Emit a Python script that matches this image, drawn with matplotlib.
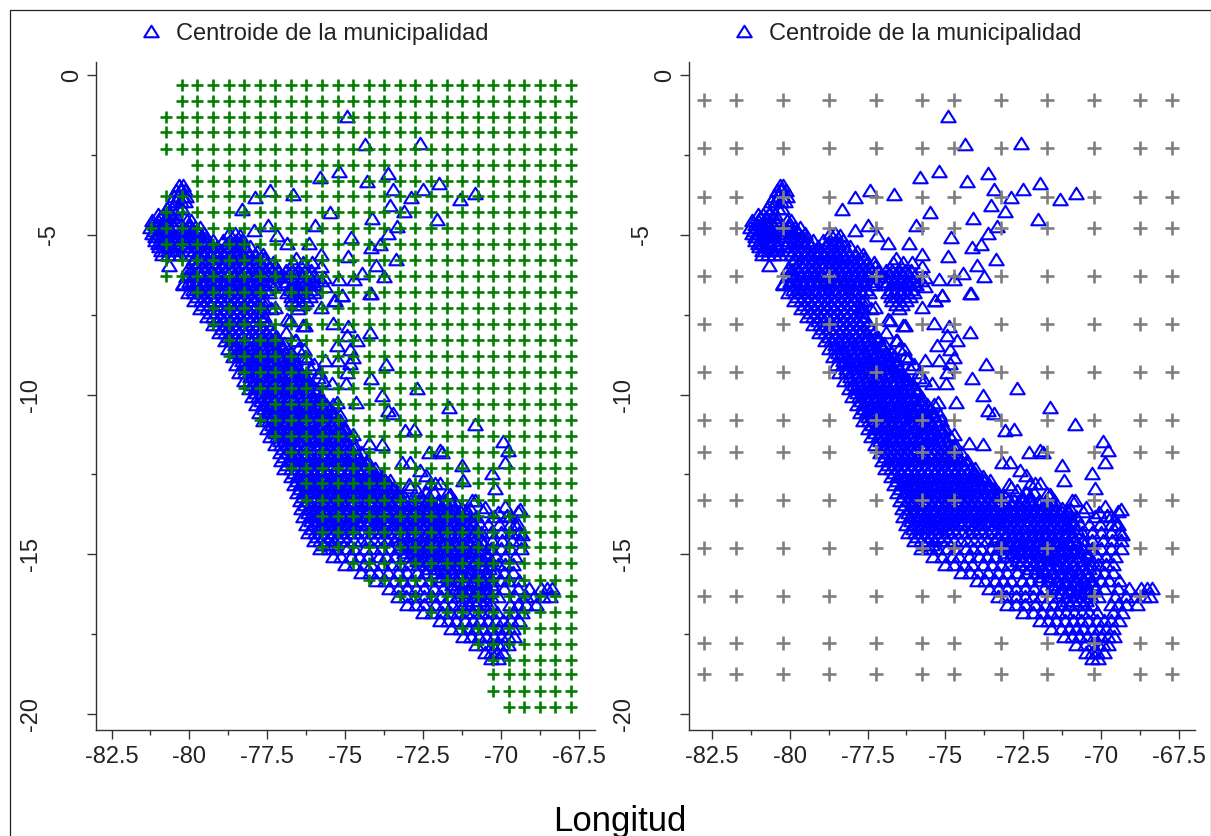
# centroides municipales sobre las dos grillas (densa y gruesa)
import matplotlib
matplotlib.use('Agg')
import matplotlib.pyplot as plt
from matplotlib.lines import Line2D
from matplotlib.path import Path

plt.rcParams['font.family'] = ['Liberation Sans', 'DejaVu Sans']

# grilla densa (panel izquierdo): cada fila va de su primera longitud hasta -67.74
dense_lat = [-0.31, -0.8, -1.3, -1.78, -2.3, -2.82, -3.3, -3.8, -4.3, -4.8,
             -5.3, -5.8, -6.3, -6.78, -7.3, -7.8, -8.3, -8.8, -9.3, -9.8,
             -10.3, -10.8, -11.3, -11.8, -12.3, -12.78, -13.3, -13.8, -14.3, -14.78,
             -15.28, -15.8, -16.3, -16.8, -17.3, -17.8, -18.3, -18.76, -19.28, -19.77]
dense_first_lon = [-80.24, -80.24, -80.74, -80.74, -80.74, -79.74, -79.74, -80.74, -80.74, -81.24,
                   -80.74, -80.74, -80.74, -79.74, -79.24, -79.24, -78.74, -78.74, -78.24, -78.24,
                   -77.24, -77.74, -77.24, -76.74, -76.74, -76.24, -76.24, -75.74, -75.74, -75.74,
                   -74.74, -74.24, -73.24, -72.24, -71.24, -70.74, -70.24, -70.24, -70.24, -69.74]
dense_lon = [-81.24, -80.74, -80.24, -79.74, -79.24, -78.74, -78.24, -77.74, -77.24, -76.74,
             -76.24, -75.74, -75.24, -74.74, -74.24, -73.74, -73.24, -72.74, -72.24, -71.74,
             -71.24, -70.74, -70.24, -69.74, -69.24, -68.74, -68.24, -67.74]

# grilla gruesa (panel derecho)
coarse_lon = [-82.74, -81.73, -80.2, -78.74, -77.22, -75.74, -74.73, -73.22, -71.74, -70.22, -68.74, -67.73]
coarse_lat = [-0.78, -2.29, -3.81, -4.8, -6.29, -7.79, -9.3, -10.8, -11.8, -13.3, -14.8, -16.29, -17.78, -18.76]

# centroides aislados, leidos uno a uno
sparse_lon = [-74.93, -74.37, -72.58, -75.82, -75.20, -74.31, -73.62, -73.45, -71.97, -72.50,
              -72.88, -71.31, -70.81, -73.54, -73.09, -72.03, -74.12, -75.48, -76.66, -77.41,
              -77.89, -78.32, -75.96, -73.33, -73.63, -73.87, -74.15, -74.82, -77.47, -77.91,
              -78.39, -77.19, -76.85, -76.17, -77.84, -75.76, -74.92, -76.59, -73.37, -74.00,
              -74.45, -73.75, -74.71, -75.20, -76.07, -75.76, -74.17, -75.10, -75.34, -75.67,
              -75.78, -75.65, -80.67, -80.06, -80.2,
              -75.11, -74.2, -75.33, -77.25, -75.76, -76.77, -76.29, -75.38, -74.9, -74.2,
              -74.95, -74.63, -75.27, -74.85, -74.74, -75.65, -75.22, -74.85, -73.69, -74.95,
              -74.15, -75.43, -74.97, -72.7, -73.81, -75.25, -74.66, -73.45, -75.17, -72.8,
              -74.23, -73.81, -71.87, -72.92, -72.4, -72.12, -73.56, -74.04, -73.13, -72.7,
              -71.74, -71.65, -70.83, -69.93, -69.77, -69.87, -71.25, -70.28, -70.19, -71.95,
              -73.08, -73.63, -72.31, -72.6, -73.17, -71.2, -69.87, -70.57, -69.45, -71.95,
              -70.83, -71.63,
              -77.39, -76.85, -76.36, -76.9, -77.17, -76.96, -76.56, -76.32, -76.66, -76.21,
              -76.13, -76.23, -75.86, -75.91, -75.8, -75.38, -75.06, -74.73, -74.15, -73.72,
              -73.29, -72.91, -72.27, -71.63, -70.93, -69.38, -70.5, -70.08, -69.81, -69.54,
              -69.33, -71.1]
sparse_lat = [-1.27, -2.15, -2.11, -3.18, -2.99, -3.30, -3.07, -3.56, -3.37, -3.58,
              -3.82, -3.87, -3.69, -4.06, -4.26, -4.49, -4.46, -4.30, -3.71, -3.60,
              -3.81, -4.18, -4.69, -4.72, -4.95, -5.30, -5.38, -5.06, -4.69, -4.85,
              -4.99, -4.99, -5.25, -5.26, -5.51, -5.61, -5.66, -5.72, -5.76, -5.93,
              -6.19, -6.30, -6.39, -6.39, -5.84, -5.98, -6.83, -6.88, -7.04, -6.31,
              -6.42, -6.60, -5.95, -6.05, -6.52,
              -6.89, -6.83, -7.04, -7.25, -7.25, -7.67, -7.83, -7.77, -7.86, -8.03,
              -8.14, -8.30, -8.45, -8.56, -8.82, -8.92, -8.92, -9.00, -9.03, -9.29,
              -9.49, -9.65, -9.65, -9.81, -10.02, -10.23, -10.23, -10.59, -10.64, -11.09,
              -11.51, -11.55, -11.79, -12.10, -12.52, -12.76, -12.68, -12.47, -13.15, -13.0,
              -13.09, -10.38, -10.92, -11.45, -11.74, -12.10, -12.20, -12.46, -12.93, -11.74,
              -11.11, -10.49, -11.80, -12.36, -12.10, -12.67, -13.50, -13.66, -13.66, -12.77,
              -13.30, -13.15,
              -7.29, -7.62, -7.81, -8.04, -8.19, -8.4, -8.3, -8.56, -8.77, -8.87,
              -9.18, -9.5, -9.45, -9.86, -10.28, -10.65, -11.06, -11.22, -12.47, -12.68,
              -13.15, -12.89, -12.78, -13.1, -13.31, -13.57, -13.51, -13.67, -13.78, -14.04,
              -14.35, -13.62]

band_lat = [-3.45, -3.6, -3.78, -3.95, -4.15, -4.35, -4.55, -4.75, -4.95, -5.15,
            -5.35, -5.6, -5.85, -6.1, -6.3, -6.55, -6.8, -7.05, -7.3, -7.55,
            -7.8, -8.05, -8.3, -8.55, -8.8, -9.05, -9.3, -9.55, -9.8, -10.05,
            -10.3, -10.55, -10.8, -11.05, -11.3, -11.55, -11.8, -12.05, -12.3, -12.55,
            -12.8, -13.05, -13.3, -13.55, -13.8, -14.05, -14.3, -14.55, -14.8, -15.05,
            -15.3, -15.55, -15.8, -16.05, -16.3, -16.55, -16.8, -17.05, -17.3, -17.55,
            -17.8, -18.05, -18.25]
band_lons = [
    [-80.32, -80.2],
    [-80.42, -80.27, -80.13],
    [-80.5, -80.36, -80.2, -80.1],
    [-80.6, -80.44, -80.28, -80.15],
    [-80.72, -80.56, -80.38, -80.25],
    [-81.02, -80.85, -80.66, -80.47],
    [-81.2, -81.0, -80.82, -80.62, -80.44, -80.08, -79.95],
    [-81.27, -81.06, -80.86, -80.68, -80.5, -80.2, -80.02, -79.83, -79.66],
    [-81.2, -81.02, -80.82, -80.62, -80.33, -80.12, -79.92, -79.72, -79.52, -78.72, -78.55],
    [-81.12, -80.95, -80.74, -80.52, -80.26, -80.05, -79.86, -79.64, -79.45, -79.25, -78.92, -78.7, -78.5, -78.3],
    [-80.98, -80.8, -80.6, -80.4, -80.16, -79.95, -79.72, -79.5, -79.3, -79.1, -78.86, -78.66, -78.45, -78.25, -78.05],
    [-80.88, -80.68, -80.5, -80.3, -79.95, -79.76, -79.55, -79.35, -79.15, -78.92, -78.7, -78.5, -78.3, -78.1, -77.9, -77.65],
    [-79.9, -79.68, -79.47, -79.25, -79.04, -78.82, -78.6, -78.38, -78.17, -77.95, -77.74, -77.52, -77.3, -76.68, -76.35],
    [-79.95, -79.72, -79.52, -79.3, -79.08, -78.86, -78.66, -78.44, -78.22, -78.0, -77.8, -77.58, -77.36, -77.15, -76.9, -76.7, -76.5, -76.3, -76.1],
    [-80.1, -79.88, -79.67, -79.46, -79.24, -79.02, -78.8, -78.6, -78.38, -78.16, -77.95, -77.73, -77.5, -77.28, -77.1, -76.95, -76.75, -76.55, -76.35, -76.15, -76.02],
    [-80.2, -79.98, -79.76, -79.55, -79.33, -79.12, -78.9, -78.68, -78.47, -78.25, -78.03, -77.82, -77.6, -77.4, -77.25, -76.95, -76.74, -76.54, -76.33, -76.13, -75.95],
    [-80.05, -79.84, -79.62, -79.4, -79.2, -78.98, -78.76, -78.55, -78.33, -78.12, -77.9, -77.68, -77.45, -76.85, -76.65, -76.44, -76.22, -76.0],
    [-79.85, -79.64, -79.42, -79.2, -79.0, -78.78, -78.56, -78.35, -78.14, -77.92, -77.7, -77.6, -76.7, -76.5, -76.25],
    [-79.65, -79.44, -79.22, -79.0, -78.8, -78.58, -78.36, -78.15, -77.94, -77.72, -77.65, -76.5],
    [-79.45, -79.24, -79.02, -78.8, -78.6, -78.38, -78.16, -77.95, -77.74, -77.6],
    [-79.25, -79.04, -78.82, -78.6, -78.4, -78.18, -77.96, -77.75, -77.5],
    [-79.05, -78.85, -78.63, -78.42, -78.2, -77.98, -77.77, -77.55, -77.3],
    [-78.85, -78.66, -78.45, -78.24, -78.02, -77.8, -77.6, -77.38, -77.15, -76.6],
    [-78.75, -78.54, -78.32, -78.1, -77.9, -77.68, -77.46, -77.25, -77.0, -76.5],
    [-78.6, -78.4, -78.18, -77.97, -77.75, -77.54, -77.32, -77.1, -76.95, -76.8, -76.3],
    [-78.5, -78.28, -78.06, -77.85, -77.63, -77.42, -77.2, -77.0, -76.8, -76.6, -76.0],
    [-78.4, -78.2, -77.98, -77.76, -77.55, -77.33, -77.12, -76.9, -76.7, -76.55, -76.4, -75.85],
    [-78.25, -78.04, -77.82, -77.6, -77.4, -77.18, -76.97, -76.75, -76.55, -76.35, -76.2, -75.7],
    [-78.1, -77.9, -77.68, -77.46, -77.25, -77.04, -76.82, -76.6, -76.4, -76.2, -76.0],
    [-78.0, -77.78, -77.56, -77.35, -77.14, -76.92, -76.7, -76.5, -76.28, -76.06, -75.8],
    [-77.85, -77.64, -77.42, -77.2, -77.0, -76.78, -76.56, -76.35, -76.14, -75.92, -75.6, -75.38],
    [-77.75, -77.54, -77.32, -77.1, -76.9, -76.68, -76.46, -76.25, -76.04, -75.82, -75.62, -75.4],
    [-77.65, -77.44, -77.22, -77.0, -76.8, -76.58, -76.36, -76.15, -75.94, -75.72, -75.5, -75.3, -75.15],
    [-77.5, -77.3, -77.08, -76.86, -76.65, -76.44, -76.22, -76.0, -75.8, -75.58, -75.36, -75.15, -75.0],
    [-77.4, -77.18, -76.96, -76.75, -76.54, -76.32, -76.1, -75.9, -75.68, -75.46, -75.25, -75.05, -74.85],
    [-77.25, -77.05, -76.83, -76.62, -76.4, -76.18, -75.97, -75.76, -75.55, -75.33, -75.12, -74.9, -74.7],
    [-77.1, -76.9, -76.68, -76.46, -76.25, -76.04, -75.82, -75.6, -75.4, -75.18, -74.96, -74.75, -74.5],
    [-77.05, -76.84, -76.62, -76.4, -76.2, -75.98, -75.76, -75.55, -75.34, -75.12, -74.9, -74.7, -74.5, -74.3],
    [-76.95, -76.74, -76.52, -76.3, -76.1, -75.88, -75.66, -75.45, -75.24, -75.02, -74.8, -74.6, -74.38, -74.2, -74.05],
    [-76.75, -76.54, -76.32, -76.1, -75.9, -75.68, -75.46, -75.25, -75.04, -74.82, -74.6, -74.4, -74.18, -74.0, -73.8],
    [-76.65, -76.44, -76.22, -76.0, -75.8, -75.58, -75.36, -75.15, -74.94, -74.72, -74.5, -74.3, -74.08, -73.85, -73.6, -72.95],
    [-76.55, -76.34, -76.12, -75.9, -75.7, -75.48, -75.26, -75.05, -74.84, -74.62, -74.4, -74.2, -73.98, -73.75, -73.52, -73.3, -72.4, -72.15],
    [-76.45, -76.24, -76.02, -75.8, -75.6, -75.38, -75.16, -74.95, -74.74, -74.52, -74.3, -74.1, -73.88, -73.66, -73.44, -73.22, -73.0, -72.8, -72.5, -72.25, -72.0, -71.78, -71.5],
    [-76.4, -76.18, -75.96, -75.75, -75.54, -75.32, -75.1, -74.9, -74.68, -74.46, -74.25, -74.04, -73.82, -73.6, -73.4, -73.18, -72.96, -72.75, -72.54, -72.32, -72.1, -71.9, -71.68, -71.46, -71.25, -71.0],
    [-76.35, -76.14, -75.92, -75.7, -75.5, -75.28, -75.06, -74.85, -74.64, -74.42, -74.2, -74.0, -73.78, -73.56, -73.35, -73.14, -72.92, -72.7, -72.5, -72.28, -72.06, -71.85, -71.64, -71.42, -71.2, -71.0, -70.8, -70.2, -69.7],
    [-76.25, -76.04, -75.82, -75.6, -75.4, -75.18, -74.96, -74.75, -74.54, -74.32, -74.1, -73.9, -73.68, -73.46, -73.25, -73.04, -72.82, -72.6, -72.4, -72.18, -71.96, -71.75, -71.54, -71.32, -71.1, -70.9, -70.68, -70.4, -70.05, -69.7, -69.45],
    [-76.2, -75.98, -75.76, -75.55, -75.34, -75.12, -74.9, -74.7, -74.48, -74.26, -74.05, -73.84, -73.62, -73.4, -73.2, -72.98, -72.76, -72.55, -72.34, -72.12, -71.9, -71.7, -71.48, -71.26, -71.05, -70.84, -70.62, -70.3, -70.0, -69.68, -69.4],
    [-76.0, -75.8, -75.58, -75.36, -75.15, -74.94, -74.72, -74.5, -74.3, -74.08, -73.86, -73.65, -73.44, -73.22, -73.0, -72.8, -72.58, -72.36, -72.15, -71.94, -71.72, -71.5, -71.3, -71.08, -70.86, -70.6, -70.28, -69.95, -69.65, -69.38],
    [-75.8, -75.5, -75.28, -74.95, -74.7, -74.35, -74.1, -73.85, -73.55, -73.3, -73.08, -72.86, -72.65, -72.44, -72.22, -72.0, -71.8, -71.58, -71.36, -71.15, -70.9, -70.62, -70.3, -70.0, -69.7, -69.35],
    [-75.4, -75.12, -74.8, -74.55, -74.25, -73.92, -73.68, -73.4, -73.12, -72.9, -72.68, -72.46, -72.25, -72.04, -71.82, -71.6, -71.4, -71.18, -70.96, -70.72, -70.45, -70.15, -69.85, -69.55],
    [-75.0, -74.72, -74.4, -74.15, -73.8, -73.5, -73.22, -72.95, -72.65, -72.4, -72.15, -71.92, -71.66, -71.42, -71.16, -70.9, -70.62, -70.35, -70.1, -69.85, -69.62],
    [-74.5, -74.2, -73.95, -73.62, -73.3, -73.02, -72.7, -72.42, -72.1, -71.85, -71.55, -71.3, -71.02, -70.72, -70.45, -70.18, -69.9, -69.62],
    [-74.0, -73.72, -73.42, -73.15, -72.88, -72.55, -72.28, -71.95, -71.7, -71.4, -71.12, -70.85, -70.55, -70.28, -70.0, -69.75, -69.42],
    [-73.6, -73.3, -73.02, -72.72, -72.45, -72.15, -71.85, -71.55, -71.3, -71.05, -70.75, -70.48, -70.2, -69.9, -69.45, -69.1, -68.72, -68.52, -68.36],
    [-73.3, -73.05, -72.75, -72.45, -72.2, -71.92, -71.62, -71.38, -71.12, -70.85, -70.58, -70.32, -70.1, -69.55, -69.2, -68.92, -68.64, -68.42],
    [-73.02, -72.72, -72.45, -72.12, -71.82, -71.55, -71.3, -71.05, -70.8, -70.55, -70.3, -69.7, -69.45, -69.2, -68.85],
    [-72.5, -72.2, -71.9, -71.62, -71.38, -71.12, -70.88, -70.62, -70.38, -70.12, -69.62, -69.32],
    [-71.95, -71.7, -71.45, -71.15, -70.9, -70.65, -70.42, -70.15, -69.92, -69.68, -69.42],
    [-71.6, -71.3, -71.05, -70.82, -70.58, -70.3, -70.08, -69.86, -69.62],
    [-71.2, -70.95, -70.7, -70.46, -70.22, -70.0, -69.78, -69.58],
    [-70.8, -70.52, -70.28, -70.1, -69.95, -69.78],
    [-70.5, -70.3, -70.12, -69.92],
    [-70.3, -70.1],
]

# bandas intermedias donde la nube es casi solida
core_lat = [-4.45, -4.65, -4.85, -5.05, -5.25, -5.48, -5.73, -5.98, -6.2, -6.43,
            -6.68, -6.93, -7.18, -7.43, -7.68, -7.93, -8.18, -8.43, -8.68, -8.93,
            -9.18, -9.43, -9.68, -9.93, -10.18, -10.43, -10.68, -10.93, -11.18, -11.43,
            -11.68, -11.93, -12.18, -12.43, -12.68, -12.93, -13.18, -13.43, -13.68, -13.93,
            -14.18, -14.43, -14.68, -14.93, -15.18, -15.43, -15.68, -15.93, -16.18, -16.43]
core_lons = [
    [-80.95, -80.75, -80.55],
    [-81.1, -80.9, -80.72, -80.54, -80.0],
    [-81.15, -80.95, -80.76, -80.58, -80.28, -80.1, -79.92, -79.75],
    [-81.1, -80.9, -80.72, -80.5, -80.2, -80.0, -79.8, -79.6],
    [-81.0, -80.85, -80.65, -80.45, -80.1, -79.9, -79.75, -79.55, -79.35, -78.8, -78.6, -78.4],
    [-80.9, -80.7, -80.5, -80.05, -79.85, -79.6, -79.4, -79.2, -79.0, -78.76, -78.55, -78.35, -78.15],
    [-79.85, -79.65, -79.45, -79.25, -79.03, -78.8, -78.6, -78.4, -78.2, -78.0, -77.8, -77.6],
    [-79.8, -79.6, -79.4, -79.18, -78.96, -78.74, -78.52, -78.3, -78.08, -77.86, -77.65, -77.45, -77.25],
    [-79.85, -79.62, -79.4, -79.2, -78.98, -78.76, -78.55, -78.33, -78.1, -77.9, -77.68, -77.47, -77.25, -76.8, -76.6, -76.4, -76.2],
    [-80.0, -79.78, -79.56, -79.35, -79.13, -78.9, -78.7, -78.48, -78.27, -78.05, -77.84, -77.62, -77.4, -76.85, -76.64, -76.44, -76.24, -76.05],
    [-79.9, -79.7, -79.48, -79.26, -79.05, -78.84, -78.62, -78.4, -78.2, -77.98, -77.76, -77.55, -76.75, -76.55, -76.33, -76.12],
    [-79.75, -79.53, -79.3, -79.1, -78.88, -78.66, -78.45, -78.23, -78.02, -77.8, -76.75, -76.55, -76.34, -76.14],
    [-79.55, -79.33, -79.1, -78.9, -78.7, -78.47, -78.25, -78.05, -77.83, -76.6, -76.38],
    [-79.35, -79.13, -78.92, -78.7, -78.48, -78.27, -78.06, -77.84, -77.7],
    [-79.1, -78.9, -78.7, -78.48, -78.28, -78.06, -77.85, -77.65],
    [-78.95, -78.72, -78.5, -78.3, -78.08, -77.86, -77.65, -77.4],
    [-78.75, -78.52, -78.3, -78.1, -77.88, -77.66, -77.45, -77.22],
    [-78.55, -78.35, -78.14, -77.92, -77.7, -77.5, -77.28, -77.06],
    [-78.44, -78.22, -78.0, -77.8, -77.58, -77.36, -77.15, -76.92, -76.75],
    [-78.3, -78.1, -77.88, -77.66, -77.45, -77.24, -77.02, -76.8, -76.6],
    [-78.2, -77.98, -77.76, -77.55, -77.33, -77.12, -76.9, -76.7, -76.5],
    [-78.05, -77.85, -77.64, -77.42, -77.2, -77.0, -76.78, -76.56, -76.35],
    [-77.95, -77.72, -77.5, -77.3, -77.08, -76.86, -76.65, -76.44, -76.22, -76.05],
    [-77.85, -77.62, -77.4, -77.2, -76.98, -76.76, -76.55, -76.34, -76.12, -75.92],
    [-77.7, -77.5, -77.28, -77.06, -76.85, -76.64, -76.42, -76.2, -76.0, -75.8],
    [-77.6, -77.4, -77.18, -76.96, -76.75, -76.54, -76.32, -76.1, -75.9, -75.7, -75.5],
    [-77.5, -77.3, -77.08, -76.86, -76.65, -76.44, -76.22, -76.0, -75.8, -75.58, -75.4],
    [-77.35, -77.15, -76.95, -76.74, -76.52, -76.3, -76.1, -75.88, -75.66, -75.45, -75.25],
    [-77.25, -77.05, -76.84, -76.62, -76.4, -76.18, -75.97, -75.75, -75.55, -75.33, -75.1],
    [-77.1, -76.92, -76.7, -76.48, -76.27, -76.05, -75.84, -75.62, -75.4, -75.2, -75.0],
    [-77.0, -76.8, -76.58, -76.36, -76.15, -75.94, -75.72, -75.5, -75.3, -75.08, -74.86, -74.7],
    [-76.95, -76.74, -76.52, -76.3, -76.1, -75.88, -75.66, -75.45, -75.24, -75.02, -74.8, -74.6],
    [-76.85, -76.62, -76.4, -76.2, -75.98, -75.76, -75.55, -75.34, -75.12, -74.9, -74.7, -74.48, -74.3],
    [-76.65, -76.45, -76.24, -76.02, -75.8, -75.6, -75.38, -75.16, -74.95, -74.74, -74.52, -74.3, -74.1],
    [-76.55, -76.34, -76.12, -75.9, -75.7, -75.48, -75.26, -75.05, -74.84, -74.62, -74.4, -74.2, -73.98, -73.8],
    [-76.45, -76.24, -76.02, -75.8, -75.6, -75.38, -75.16, -74.95, -74.74, -74.52, -74.3, -74.1, -73.88, -73.66, -73.45],
    [-76.35, -76.14, -75.92, -75.7, -75.5, -75.28, -75.06, -74.85, -74.64, -74.42, -74.2, -74.0, -73.78, -73.56, -73.35, -73.1, -72.55, -72.3],
    [-76.3, -76.08, -75.86, -75.65, -75.44, -75.22, -75.0, -74.8, -74.58, -74.36, -74.15, -73.94, -73.72, -73.5, -73.3, -73.08, -72.86, -72.65, -72.44, -72.22, -72.0, -71.8, -71.58],
    [-76.2, -75.98, -75.76, -75.55, -75.34, -75.12, -74.9, -74.7, -74.48, -74.26, -74.05, -73.84, -73.62, -73.4, -73.2, -72.98, -72.76, -72.55, -72.34, -72.12, -71.9, -71.7, -71.48, -71.26, -71.05],
    [-76.1, -75.88, -75.66, -75.45, -75.24, -75.02, -74.8, -74.6, -74.38, -74.16, -73.95, -73.74, -73.52, -73.3, -73.1, -72.88, -72.66, -72.45, -72.24, -72.02, -71.8, -71.6, -71.38, -71.16, -70.95],
    [-76.05, -75.82, -75.6, -75.38, -75.18, -74.96, -74.75, -74.1, -73.88, -73.46, -73.2, -72.95, -72.74, -72.52, -72.3, -72.1, -71.88, -71.66, -71.45, -71.24, -71.02, -70.8],
    [-75.9, -75.68, -75.46, -75.25, -75.05, -73.3, -73.06, -72.84, -72.62, -72.4, -72.2, -71.98, -71.76, -71.55, -71.34, -71.12, -70.9],
    [-75.7, -75.42, -73.2, -72.95, -72.74, -72.52, -72.3, -72.1, -71.88, -71.66, -71.45, -71.24, -71.02, -70.8, -70.56],
    [-73.1, -72.85, -72.64, -72.42, -72.2, -72.0, -71.78, -71.56, -71.35, -71.14, -70.92, -70.7, -70.46],
    [-72.7, -72.5, -72.28, -72.06, -71.85, -71.64, -71.42, -71.2, -71.0, -70.78, -70.56, -70.3],
    [-72.3, -72.1, -71.88, -71.66, -71.45, -71.24, -71.02, -70.8, -70.6, -70.38],
    [-71.95, -71.72, -71.5, -71.3, -71.08, -70.86, -70.65, -70.44],
    [-71.55, -71.36, -71.14, -70.92, -70.7, -70.5, -70.3],
    [-71.25, -71.05, -70.84, -70.62, -70.4],
    [-71.1, -70.9, -70.7, -70.5],
]

xticks = [-82.5, -80, -77.5, -75, -72.5, -70, -67.5]
xtick_labels = ['-82.5', '-80', '-77.5', '-75', '-72.5', '-70', '-67.5']
yticks = [0, -5, -10, -15, -20]
ytick_pads = [3, 19.5, 32.5, 32.5, 32.5]

muni_lon = list(sparse_lon)
muni_lat = list(sparse_lat)
for lat, lons in zip(band_lat + core_lat, band_lons + core_lons):
    muni_lon += lons
    muni_lat += [lat] * len(lons)

grid1_lon = []
grid1_lat = []
for lat, first in zip(dense_lat, dense_first_lon):
    for lon in dense_lon:
        if lon >= first:
            grid1_lon.append(lon)
            grid1_lat.append(lat)

grid2_lon = [lon for lat in coarse_lat for lon in coarse_lon]
grid2_lat = [lat for lat in coarse_lat for lon in coarse_lon]

# triangulo algo mas ancho que alto, como el pch original
wide_triangle = Path([(-1, -0.8), (0, 0.8), (1, -0.8), (-1, -0.8)], closed=True)

W, H = 1211, 836
fig = plt.figure(figsize=(W / 100, H / 100), dpi=100)


def make_panel(x0, x1, xlim):
    ax = fig.add_axes([x0 / W, (H - 730) / H, (x1 - x0) / W, 668 / H])
    ax.plot(muni_lon, muni_lat, linestyle='none', marker=wide_triangle, mfc='none', mec='#0000ff',
            ms=10.4, mew=1.5, label='Centroide de la municipalidad', zorder=2)
    ax.set_xlim(*xlim)
    ax.set_ylim(-20.5, 0.41)
    for s in ['top', 'right']:
        ax.spines[s].set_visible(False)
    for s in ['left', 'bottom']:
        ax.spines[s].set_linewidth(1.0)
        ax.spines[s].set_color('#333333')
    ax.set_xticks(xticks)
    ax.set_xticklabels(xtick_labels, fontsize=17, color='#222222')
    ax.set_xticks([-81.25, -78.75, -76.25, -73.75, -71.25, -68.75], minor=True)
    ax.set_yticks(yticks)
    ax.set_yticklabels([str(v) for v in yticks], fontsize=17, rotation=90, va='center', color='#222222')
    ax.set_yticks([-2.5, -7.5, -12.5, -17.5], minor=True)
    ax.tick_params(axis='both', which='major', length=6.2, width=1.0, color='#333333')
    ax.tick_params(axis='both', which='minor', length=3.6, width=1.0, color='#333333')
    ax.tick_params(axis='x', which='major', pad=5)
    for tick, pad in zip(ax.yaxis.get_major_ticks(), ytick_pads):
        tick.set_pad(pad)
    ax.legend(loc='lower left', bbox_to_anchor=(0.062, 1.026), frameon=False, fontsize=17,
              handletextpad=0.07, borderpad=0, borderaxespad=0, labelcolor='#222222')
    return ax


ax1 = make_panel(96, 595, (-83.0, -66.97))
ax1.plot(grid1_lon, grid1_lat, '+', color='#007f00', ms=8, mew=1.9, zorder=3)

ax2 = make_panel(689, 1195, (-83.23, -66.99))
ax2.plot(grid2_lon, grid2_lat, '+', color='#7f7f7f', ms=10, mew=1.9, zorder=3)

fig.text(620 / W, 1 - 821 / H, 'Longitud', fontsize=25, ha='center', va='center')

# marco exterior de la figura
fig.add_artist(Line2D([9.5 / W, 9.5 / W, 1210.5 / W, 1210.5 / W],
                      [0, 1 - 9.5 / H, 1 - 9.5 / H, 0],
                      color='#222222', lw=0.9, transform=fig.transFigure))

fig.savefig('out.png', dpi=100)
